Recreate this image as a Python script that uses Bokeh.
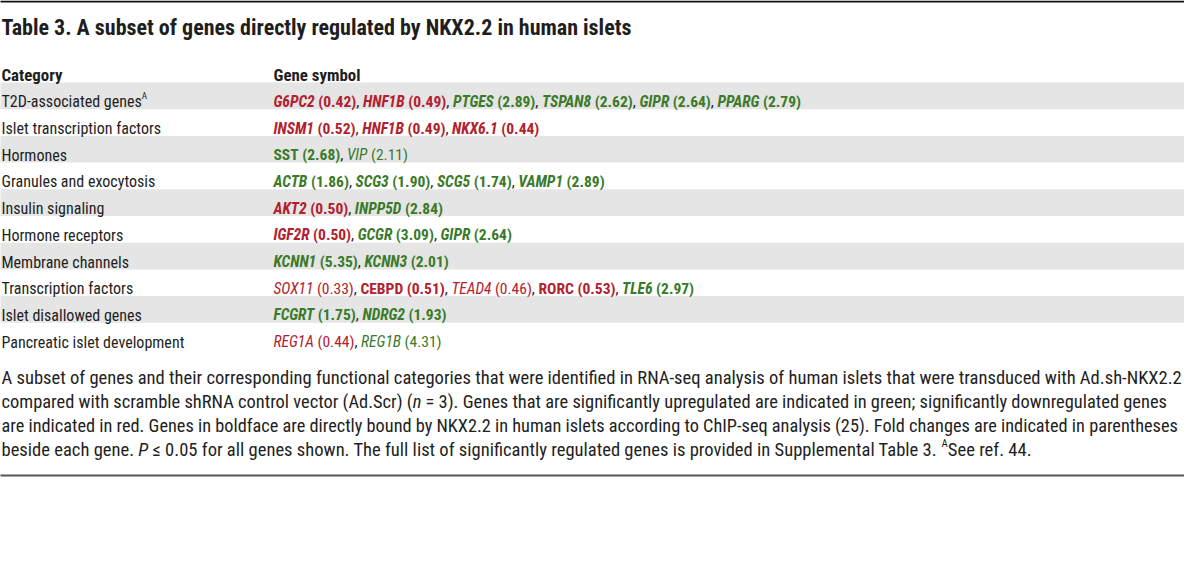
from bokeh.plotting import figure
from bokeh.models import Range1d, ColumnDataSource, CustomJS
from bokeh.core.properties import value, field
from bokeh.io import curdoc
from bokeh.embed import file_html
from bokeh.resources import INLINE
import json

# ---------------- data ----------------
title = "Table 3. A subset of genes directly regulated by NKX2.2 in human islets"
col_headers = ["Category", "Gene symbol"]
categories = ["T2D-associated genes", "Islet transcription factors", "Hormones",
              "Granules and exocytosis", "Insulin signaling", "Hormone receptors",
              "Membrane channels", "Transcription factors", "Islet disallowed genes",
              "Pancreatic islet development"]
category_sup = ["A", "", "", "", "", "", "", "", "", ""]
genes = [["G6PC2", "HNF1B", "PTGES", "TSPAN8", "GIPR", "PPARG"],
         ["INSM1", "HNF1B", "NKX6.1"],
         ["SST", "VIP"],
         ["ACTB", "SCG3", "SCG5", "VAMP1"],
         ["AKT2", "INPP5D"],
         ["IGF2R", "GCGR", "GIPR"],
         ["KCNN1", "KCNN3"],
         ["SOX11", "CEBPD", "TEAD4", "RORC", "TLE6"],
         ["FCGRT", "NDRG2"],
         ["REG1A", "REG1B"]]
fold_changes = [[0.42, 0.49, 2.89, 2.62, 2.64, 2.79],
                [0.52, 0.49, 0.44],
                [2.68, 2.11],
                [1.86, 1.90, 1.74, 2.89],
                [0.50, 2.84],
                [0.50, 3.09, 2.64],
                [5.35, 2.01],
                [0.33, 0.51, 0.46, 0.53, 2.97],
                [1.75, 1.93],
                [0.44, 4.31]]
# directly bound by NKX2.2 (boldface)
bound = [[1, 1, 1, 1, 1, 1], [1, 1, 1], [1, 0], [1, 1, 1, 1], [1, 1], [1, 1, 1],
         [1, 1], [0, 1, 0, 1, 1], [1, 1], [0, 0]]
# gene symbol set in italics
italic = [[1, 1, 1, 1, 1, 1], [1, 1, 1], [0, 1], [1, 1, 1, 1], [1, 1], [1, 1, 1],
          [1, 1], [1, 0, 1, 0, 1], [1, 1], [1, 1]]
caption_lines = [
    [("A subset of genes and their corresponding functional categories that were identified in RNA-seq analysis of human islets that were transduced with Ad.sh-NKX2.2", "normal")],
    [("compared with scramble shRNA control vector (Ad.Scr) (", "normal"), ("n", "italic"),
     (" = 3). Genes that are significantly upregulated are indicated in green; significantly downregulated genes", "normal")],
    [("are indicated in red. Genes in boldface are directly bound by NKX2.2 in human islets according to ChIP-seq analysis (25). Fold changes are indicated in parentheses", "normal")],
    [("beside each gene. ", "normal"), ("P", "italic"),
     (" \u2264 0.05 for all genes shown. The full list of significantly regulated genes is provided in Supplemental Table 3. ", "normal"),
     ("A", "sup"), ("See ref. 44.", "normal")],
]

# ---------------- styling / layout ----------------
RED = "#b3202d"
GREEN = "#3a7a29"
INK = "#1e1e1e"
BAND = "#e5e5e5"
FONT = "Roboto Condensed"

ROW_TOP = 90.0
ROW_H = 26.7
LEFT = 9
GENE_X = 281
NB = "\u00a0"

cols = dict(text=[], x=[], y=[], color=[], style=[], base=[], size=[], line=[], group=[], x0=[])
line_counter = [0]


def keep_spaces(s):
    n_lead = len(s) - len(s.lstrip(" "))
    n_trail = len(s) - len(s.rstrip(" "))
    core = s.strip(" ")
    return NB * n_lead + core + NB * n_trail


def add_line(x0, y, group, segs):
    lid = line_counter[0]
    line_counter[0] += 1
    cur = x0
    for text, color, style, base, dy in segs:
        text = keep_spaces(text)
        cols["text"].append(text)
        cols["x"].append(cur)
        cols["y"].append(y + dy)
        cols["color"].append(color)
        cols["style"].append(style)
        cols["base"].append(base)
        cols["size"].append("%.1fpx" % base)
        cols["line"].append(lid)
        cols["group"].append(group)
        cols["x0"].append(x0)
        w = 0.45 if "bold" in style else 0.42
        cur += len(text) * base * w
    return lid


BODY = 16.5
targets = {}
title_line = add_line(LEFT, 35, "title", [(title, INK, "bold", 20.0, 0)])
targets["title"] = [title_line, 630.0]
hdr_line = add_line(LEFT, 82, "head", [(col_headers[0], INK, "bold", 17.0, 0)])
targets["head"] = [hdr_line, 61.0]
add_line(GENE_X, 82, "head", [(col_headers[1], INK, "bold", 17.0, 0)])

for i, cat in enumerate(categories):
    yb = ROW_TOP + ROW_H * (i + 0.5) + 6
    segs = [(cat, INK, "normal", BODY, 0)]
    if category_sup[i]:
        segs.append((category_sup[i], INK, "normal", 9.5, -6))
    clid = add_line(LEFT, yb, "cat", segs)
    if i == len(categories) - 1:
        targets["cat"] = [clid, 183.0]
    gsegs = []
    for j, g in enumerate(genes[i]):
        fc = fold_changes[i][j]
        color = GREEN if fc > 1 else RED
        b = bound[i][j]
        it = italic[i][j]
        gstyle = ("bold italic" if it else "bold") if b else ("italic" if it else "normal")
        fstyle = "bold" if b else "normal"
        if j > 0:
            gsegs.append((", ", INK, "normal", BODY, 0))
        gsegs.append((g, color, gstyle, BODY, 0))
        gsegs.append((" (%.2f)" % fc, color, fstyle, BODY, 0))
    lid = add_line(GENE_X, yb, "body", gsegs)
    if i == 0:
        targets["body"] = [lid, 528.0]

CAP = 17.0
cap_widths = [1181.0, 1166.0, 1177.0, None]
for k, segs in enumerate(caption_lines):
    yb = 379 + 24 * k + 6
    grp = "cap%d" % k if cap_widths[k] else "cap0"
    ss = []
    for text, st in segs:
        if st == "sup":
            ss.append((text, INK, "normal", 10.0, -6))
        else:
            ss.append((text, INK, st, CAP, 0))
    lid = add_line(LEFT, yb, grp, ss)
    if cap_widths[k]:
        targets[grp] = [lid, cap_widths[k]]

src = ColumnDataSource(data=cols)

p = figure(width=1184, height=551, output_backend="svg", toolbar_location=None,
           x_range=Range1d(8, 1192), y_range=Range1d(559, 8),
           x_axis_type=None, y_axis_type=None, min_border=0)
p.grid.visible = False
p.outline_line_color = None
p.background_fill_color = "white"

# alternating row bands
band_rows = [i for i in range(len(categories)) if i % 2 == 0]
p.quad(left=[0] * len(band_rows), right=[1200] * len(band_rows),
       top=[ROW_TOP + ROW_H * i for i in band_rows],
       bottom=[ROW_TOP + ROW_H * (i + 1) for i in band_rows],
       fill_color=BAND, line_color=None)

# rules
p.segment(x0=[0], y0=[9], x1=[1200], y1=[9], line_color="#111111", line_width=2)
p.segment(x0=[0], y0=[483], x1=[1200], y1=[483], line_color="#555555", line_width=2)

p.text(x="x", y="y", text="text", source=src, text_font=value(FONT),
       text_font_size=field("size"), text_font_style=field("style"),
       text_color=field("color"), text_baseline="alphabetic", text_align="left")

js = """
const d = src.data;
const n = d.text.length;
const targets = %s;
const canvas = document.createElement('canvas');
const ctx = canvas.getContext('2d');
function css(style, size) {
  const st = style.indexOf('italic') >= 0 ? 'italic' : 'normal';
  const wt = style.indexOf('bold') >= 0 ? 'bold' : 'normal';
  return st + ' ' + wt + ' ' + size + 'px "%s"';
}
function w(i, s) { ctx.font = css(d.style[i], d.base[i] * s); return ctx.measureText(d.text[i]).width; }
const scales = {};
for (const g in targets) {
  const lid = targets[g][0], tw = targets[g][1];
  let tot = 0;
  for (let i = 0; i < n; i++) { if (d.line[i] === lid) tot += w(i, 1); }
  scales[g] = tot > 0 ? tw / tot : 1;
}
const x = [], size = [];
let cur = 0, curLine = -1;
for (let i = 0; i < n; i++) {
  const s = (d.group[i] in scales) ? scales[d.group[i]] : 1;
  if (d.line[i] !== curLine) { curLine = d.line[i]; cur = d.x0[i]; }
  x.push(cur);
  size.push((d.base[i] * s).toFixed(2) + 'px');
  cur += w(i, s);
}
const nd = Object.assign({}, d);
nd.x = x; nd.size = size;
src.data = nd;
""" % (json.dumps(targets), FONT)

cb = CustomJS(args=dict(src=src), code=js)
doc = curdoc()
doc.add_root(p)
doc.js_on_event("document_ready", cb)

open("out.html", "w").write(file_html(p, INLINE))
